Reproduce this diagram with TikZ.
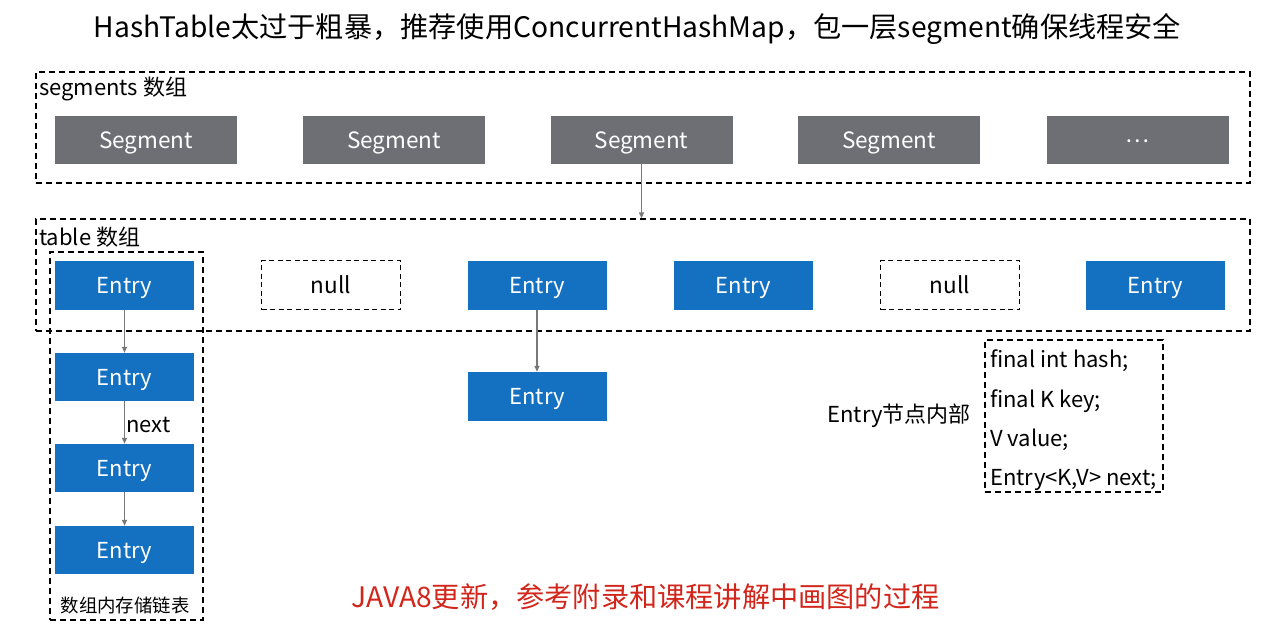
\documentclass[tikz,border=0pt]{standalone}
\usepackage{fontspec}
\setmainfont{Noto Sans CJK SC}
\usetikzlibrary{arrows.meta}
\definecolor{seggray}{RGB}{110,111,116}
\definecolor{entblue}{RGB}{20,113,194}
\definecolor{arrgray}{RGB}{120,120,120}
\definecolor{redtxt}{RGB}{210,38,28}
\tikzset{
  boxtext/.style={text height=16pt, text depth=0pt},
  segbox/.style={rectangle, fill=seggray, text=white, minimum width=182pt, minimum height=48pt, inner sep=0pt, boxtext, font=\fontsize{22.5}{26}\selectfont},
  entbox/.style={rectangle, fill=entblue, text=white, minimum width=139pt, minimum height=49pt, inner sep=0pt, boxtext, font=\fontsize{22}{26}\selectfont},
  nullbox/.style={rectangle, draw=black, line width=1.3pt, dash pattern=on 5pt off 3.5pt, minimum width=139pt, minimum height=49pt, inner sep=0pt, boxtext, font=\fontsize{22.5}{26}\selectfont},
  dbox/.style={rectangle, draw=black, line width=1.3pt, dash pattern=on 6pt off 4pt, inner sep=0pt},
  link/.style={draw=arrgray, line width=1.6pt, -{Triangle[length=6pt,width=5pt]}},
  lbl/.style={inner sep=0pt, anchor=west, font=\fontsize{22}{26}\selectfont},
}
\begin{document}
\begin{tikzpicture}[x=1pt,y=-1pt]
\useasboundingbox (0,0) rectangle (1266,642);
% title
\node[inner sep=0pt, font=\fontsize{28.2}{32}\selectfont] (title) at (637.5,29) {HashTable太过于粗暴，推荐使用ConcurrentHashMap，包一层segment确保线程安全};
% segments array
\node[dbox, minimum width=1214pt, minimum height=111pt] (segs) at (643,127.5) {};
\node[lbl] (segslbl) at (39,89) {segments 数组};
\node[segbox] (s1) at (146,140) {Segment};
\node[segbox] (s2) at (394,140) {Segment};
\node[segbox] (s3) at (641.5,140) {Segment};
\node[segbox] (s4) at (889,140) {Segment};
\node[segbox] (s5) at (1137.5,140) {\raisebox{6pt}{…}};
% table array
\node[dbox, minimum width=1214pt, minimum height=112pt] (tbl) at (643,275) {};
\node[lbl] (tbllbl) at (39,237) {table 数组};
\node[dbox, minimum width=153pt, minimum height=368pt] (chain) at (126.5,436) {};
\node[entbox] (e1) at (124.5,285) {Entry};
\node[nullbox] (n1) at (331,285) {null};
\node[entbox] (e3) at (537,285) {Entry};
\node[entbox] (e4) at (743.5,285) {Entry};
\node[nullbox] (n2) at (950,285) {null};
\node[entbox] (e6) at (1155.5,285) {Entry};
% chain
\node[entbox, minimum height=48pt] (c1) at (124.5,377) {Entry};
\node[entbox, minimum height=48pt] (c2) at (124.5,468) {Entry};
\node[entbox, minimum height=48pt] (c3) at (124.5,550) {Entry};
\node[entbox] (m1) at (537,396.5) {Entry};
\node[inner sep=0pt, font=\fontsize{18.4}{22}\selectfont] (chainlbl) at (125,606) {数组内存储链表};
% arrows
\draw[link] (s3.south) -- (s3.south |- tbl.north);
\draw[link] (e1.south) -- (c1.north);
\draw[link] (c1.south) -- node[inner sep=0pt, anchor=west, xshift=1pt, yshift=-2pt, font=\fontsize{22}{26}\selectfont] (nextlbl) {next} (c2.north);
\draw[link] (c2.south) -- (c3.north);
\draw[link] (e3.south) -- (m1.north);
% entry internals
\node[inner sep=0pt, anchor=east, font=\fontsize{22}{26}\selectfont] (intlbl) at (971,416) {Entry节点内部};
\node[dbox, minimum width=178pt, minimum height=152pt] (fields) at (1074,416) {};
\node[lbl] (f1) at (990,361) {final int hash;};
\node[lbl] (f2) at (990,401) {final K key;};
\node[lbl] (f3) at (990,440) {V value;};
\node[lbl] (f4) at (990,480) {Entry<K,V> next;};
% footer
\node[inner sep=0pt, text=redtxt, font=\fontsize{28.2}{32}\selectfont] (java8) at (645.5,597) {JAVA8更新，参考附录和课程讲解中画图的过程};
\end{tikzpicture}
\end{document}
